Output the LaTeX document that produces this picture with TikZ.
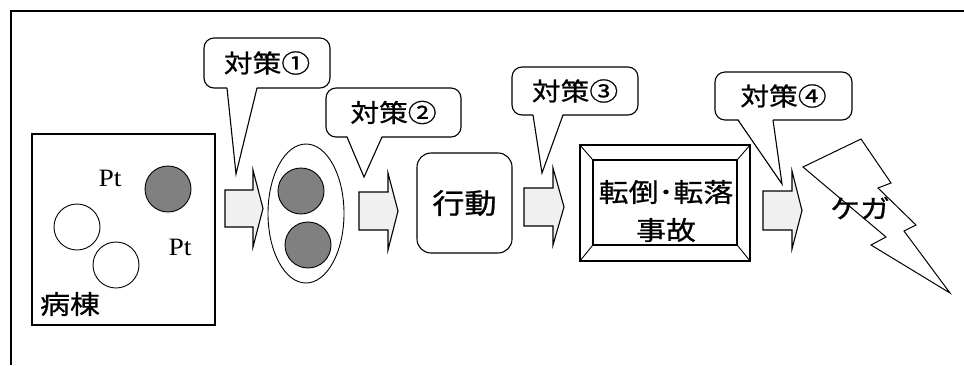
\documentclass[tikz,border=0pt]{standalone}
\usepackage{fontspec}
\usetikzlibrary{shapes.geometric}
\newfontfamily\jp{Noto Sans CJK JP}[FakeStretch=1.15,FakeBold=0.8]
\newfontfamily\ptf{Liberation Serif}[FakeStretch=1.1]
\newcommand\barrow[8]{%
  \draw[blockarrow] (#1,#4) -- (#2,#4) -- (#2,#6) -- (#3,#8) -- (#2,#7) -- (#2,#5) -- (#1,#5) -- cycle;}
\newcommand\calltail[4]{%
  \fill[white] (#1,#4-1.5) -- (#3) -- (#2,#4-1.5) -- cycle;
  \draw[callline] (#1,#4) -- (#3) -- (#2,#4);}
\begin{document}
\begin{tikzpicture}[x=1pt,y=-1pt,
  blockarrow/.style={draw=black, line width=1.1pt, fill=gray!12, line join=miter},
  callline/.style={draw=black, line width=1.1pt, line join=miter},
  callbox/.style={draw=black, line width=1.1pt, rounded corners=10pt, fill=white, inner sep=0pt, font=\jp\fontsize{25}{30}\selectfont},
  person/.style={circle, draw=black, line width=0.9pt, minimum size=46pt, inner sep=0pt},
  pat/.style={person, fill=black!50},
  jptext/.style={inner sep=0pt, font=\jp\fontsize{26}{38}\selectfont}]
\useasboundingbox (0,0) rectangle (964,365);
% outer frame
\draw[line width=2pt] (964,10.5) -- (11,10.5) -- (11,365);
% ward
\node[draw=black, line width=2.4pt, minimum width=183pt, minimum height=191pt, inner sep=0pt] (ward) at (123.5,229.5) {};
\node[pat] (p1) at (168,189) {};
\node[person] (p2) at (77,227) {};
\node[person] (p3) at (116,265) {};
\node[inner sep=0pt, font=\ptf\fontsize{25}{30}\selectfont] (pt1) at (110,178) {Pt};
\node[inner sep=0pt, font=\ptf\fontsize{25}{30}\selectfont] (pt2) at (180,247) {Pt};
\node[jptext] (wardlbl) at (70,304) {病棟};
% group
\node[ellipse, draw=black, line width=0.9pt, minimum width=76pt, minimum height=139pt, inner sep=0pt] (grp) at (306,213.5) {};
\node[pat] (g1) at (301,191) {};
\node[pat] (g2) at (308,245) {};
% action
\node[draw=black, line width=1.1pt, rounded corners=14pt, minimum width=95pt, minimum height=100pt, inner sep=0pt, font=\jp\fontsize{28}{30}\selectfont] (act) at (464.5,203) {行動};
% accident
\node[draw=black, line width=1.1pt, minimum width=170pt, minimum height=116pt, inner sep=0pt] (accout) at (665,203) {};
\node[draw=black, line width=1.1pt, minimum width=144pt, minimum height=85pt, inner sep=0pt] (accin) at (665,202.5) {};
\draw[line width=0.9pt] (accout.north west) -- (accin.north west)
  (accout.north east) -- (accin.north east)
  (accout.south west) -- (accin.south west)
  (accout.south east) -- (accin.south east);
\node[jptext, align=center] (acctxt) at (666,211) {転倒･転落\\事故};
% injury
\draw[line width=1pt, line join=miter] (803,167) -- (861,139) -- (891,183) -- (878,188) -- (916,225) -- (904,231) -- (950,293) -- (871,245) -- (886,237) -- cycle;
\node[jptext] (inj) at (860,208) {ケガ};
% arrows
\barrow{225}{253}{263}{190}{227}{170}{247}{208.5}
\barrow{359}{388}{398}{192}{230}{173}{250}{211}
\barrow{524}{553}{564}{188}{226}{168}{245}{207}
\barrow{763}{792}{802}{191}{230}{171}{249}{210.5}
% callouts
\node[callbox, minimum width=126pt, minimum height=50pt] (c1) at (267,63) {対策①};
\coordinate (t1) at (236,174);
\calltail{227}{257}{t1}{88}
\node[callbox, minimum width=135pt, minimum height=49pt] (c2) at (393.5,112.5) {対策②};
\coordinate (t2) at (364,177);
\calltail{347}{382}{t2}{137}
\node[callbox, minimum width=126pt, minimum height=48pt] (c3) at (575,91) {対策③};
\coordinate (t3) at (542,173);
\calltail{533}{563}{t3}{115}
\node[callbox, minimum width=137pt, minimum height=48pt] (c4) at (783.5,96) {対策④};
\coordinate (t4) at (782,184);
\calltail{738}{773}{t4}{120}
\end{tikzpicture}
\end{document}
